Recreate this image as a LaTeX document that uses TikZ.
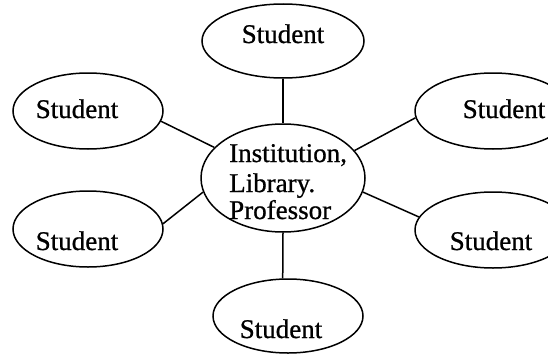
\documentclass[tikz,border=0pt]{standalone}
\usepackage{fontspec}
\setmainfont{Liberation Serif}
\newfontfamily\heavyserif{Liberation Serif}[FakeBold=0.8]
\usetikzlibrary{shapes.geometric}
\begin{document}
\begin{tikzpicture}[x=1pt,y=-1pt,
  bub/.style={draw,ellipse,line width=1.5pt,inner sep=0pt},
  stud/.style={bub,minimum width=150pt,minimum height=76pt},
  txt/.style={anchor=base,inner sep=0pt,font=\heavyserif\fontsize{27}{28}\selectfont},
  ctxt/.style={anchor=base west,inner sep=0pt,font=\heavyserif\fontsize{27}{28}\selectfont},
  link/.style={line width=1.5pt}]
\useasboundingbox (0,0) rectangle (548,356);
\clip (0,0) rectangle (548,356);
\fill[white] (0,0) rectangle (548,356);
% ellipses
\node[bub,minimum width=164pt,minimum height=108pt] (c) at (283,178) {};
\node[bub,minimum width=162pt,minimum height=74pt] (t) at (283,41) {};
\node[stud] (ul) at (88,111) {};
\node[stud] (ll) at (88,229) {};
\node[bub,minimum width=156pt,minimum height=76pt] (ur) at (493,111) {};
\node[bub,minimum width=156pt,minimum height=76pt] (lr) at (493,230) {};
\node[stud,minimum height=74pt] (b) at (288,316) {};
% texts
\node[txt] (tt) at (283,43) {Student};
\node[txt] (ult) at (77,118) {Student};
\node[txt] (llt) at (77,250) {Student};
\node[txt] (urt) at (504,118) {Student};
\node[txt] (lrt) at (491,250) {Student};
\node[txt] (bt) at (281,338) {Student};
\node[ctxt] (c1) at (229,162) {Institution,};
\node[ctxt] (c2) at (229,192) {Library.};
\node[ctxt] (c3) at (229,219) {Professor};
% connectors
\draw[link] (t.south) -- (c.north);
\draw[link] (c.south) -- (b.98);
\draw[link] (ul.-8.5) -- (c.156);
\draw[link] (ll.4.6) -- (c.190);
\draw[link] (ur.185) -- (c.21);
\draw[link] (lr.170.5) -- (c.-10);
\end{tikzpicture}
\end{document}
